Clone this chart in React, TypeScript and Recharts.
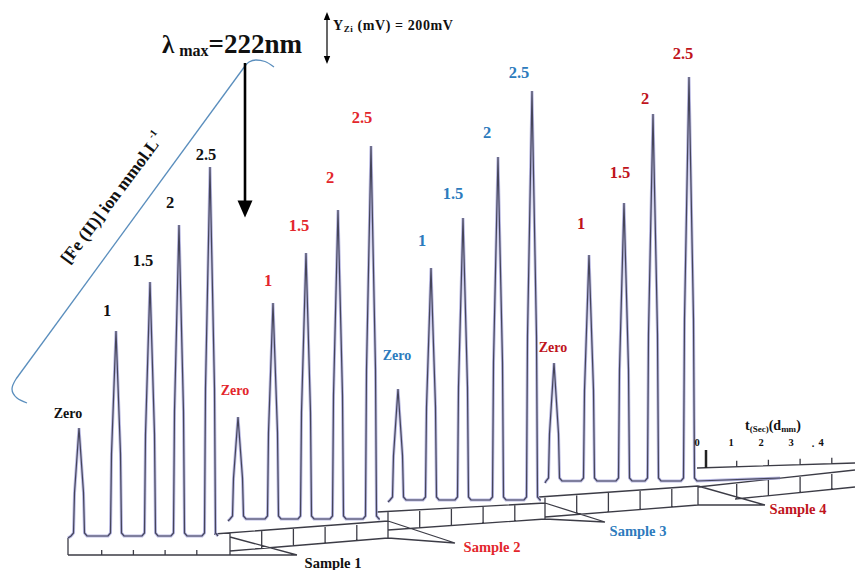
import React from 'react';
import { ComposedChart, Line, Scatter, XAxis, YAxis } from 'recharts';

// ---------------- data ----------------
const concentrations = ['Zero', '1', '1.5', '2', '2.5'];
const sampleNames = ['Sample 1', 'Sample 2', 'Sample 3', 'Sample 4'];
// retention position of each injection (chart x units)
const s1Times = [79, 116, 150, 179, 210];
const s2Times = [238, 273, 306, 338, 371];
const s3Times = [398, 431, 463, 498, 532];
const s4Times = [554, 589, 624, 653, 689];
// peak signal (chart y units above the sample baseline)
const s1Signal = [108, 205, 254, 311, 369];
const s2Signal = [102, 216, 266, 309, 373];
const s3Signal = [111, 232, 282, 343, 409];
const s4Signal = [118, 226, 278, 367, 404];
const timeTickLabels = ['0', '1', '2', '3', '4'];

// ---------------- layout ----------------
const W = 855;
const H = 570;
const FONT = '"Liberation Serif", "Times New Roman", serif';
const sampleColors = ['#111111', '#e3262c', '#2c7bbd', '#c0141c'];
const baselines = [536, 519, 500, 481];
const traceStart = [68, 228, 388, 545];
const traceEnd = [218, 380, 541, 780];
const labelDx = [
  [-11, -9, -7, -9, -4],
  [-3, -5, -7, -8, -9],
  [-1, -9, -10, -11, -13],
  [-1, -8, -4, -8, -6],
];
const labelLift = [
  [15, 21, 22, 23, 13],
  [27, 23, 28, 33, 29],
  [34, 28, 25, 25, 19],
  [16, 32, 31, 16, 24],
];

type P = { x: number; y: number | null };
type Pt = { x: number; y: number };

// floors (time-axis ribbons below each sample): [topL, topR, botL, botR]
const floors: Pt[][] = [
  [{ x: 68, y: 538 }, { x: 230, y: 537 }, { x: 68, y: 555 }, { x: 230, y: 555 }],
  [{ x: 214, y: 534 }, { x: 388, y: 521 }, { x: 230, y: 551 }, { x: 388, y: 538 }],
  [{ x: 377, y: 512 }, { x: 545, y: 503 }, { x: 388, y: 530 }, { x: 545, y: 519 }],
  [{ x: 539, y: 497 }, { x: 698, y: 486 }, { x: 545, y: 517 }, { x: 698, y: 505 }],
  [{ x: 698, y: 487 }, { x: 855, y: 470 }, { x: 735, y: 499 }, { x: 855, y: 487 }],
];
const floorOrigin = [70, 230, 388, 545, 705];
const secPx = 31.7;
const pointerApex: Pt[] = [
  { x: 297, y: 555 },
  { x: 455, y: 543 },
  { x: 605, y: 522 },
  { x: 765, y: 505 },
];
const sampleLabelOffset: Pt[] = [
  { x: 36, y: 8 },
  { x: 37, y: 4 },
  { x: 33, y: 9 },
  { x: 33, y: 4 },
];

const lerpY = (a: Pt, b: Pt, x: number) => a.y + ((b.y - a.y) * (x - a.x)) / (b.x - a.x);

function peakTrace(times: number[], signal: number[], base: number, x0: number, x1: number, endLift: number): P[] {
  const pts: P[] = [{ x: x0, y: base + 2 }];
  times.forEach((t, i) => {
    const h = signal[i];
    const top = base - h;
    pts.push(
      { x: t - 8, y: base },
      { x: t - 5.5, y: base - 3 },
      { x: t - 4.5, y: top + 0.6 * h },
      { x: t, y: top },
      { x: t + 4.5, y: top + 0.6 * h },
      { x: t + 5.5, y: base - 3 },
      { x: t + 8, y: base },
    );
  });
  pts.push({ x: x1, y: base - endLift });
  return pts;
}

const allTimes = [s1Times, s2Times, s3Times, s4Times];
const allSignals = [s1Signal, s2Signal, s3Signal, s4Signal];
const traces = allTimes.map((t, k) =>
  peakTrace(t, allSignals[k], baselines[k], traceStart[k], traceEnd[k], k === 3 ? 3 : 0),
);

// segments of the drawn floors
const segs: [Pt, Pt][] = [];
floors.forEach((f, k) => {
  const [tl, tr, bl, br] = f;
  if (k > 0) segs.push([tl, tr]);
  segs.push([bl, br]);
  if (k === 0) segs.push([{ x: tl.x, y: tl.y }, { x: bl.x, y: bl.y }]);
  if (k > 0 && k < 4) segs.push([{ x: bl.x, y: lerpY(tl, tr, bl.x) }, bl]);
  if (k < 4) {
    segs.push([tr, br]);
    segs.push([tr, pointerApex[k]]);
    segs.push([br, pointerApex[k]]);
  }
  for (let i = 1; i <= 4; i++) {
    const x = floorOrigin[k] + i * secPx;
    const yb = lerpY(bl, br, x);
    const yt = k === 0 ? yb - 5 : lerpY(tl, tr, x);
    segs.push([{ x, y: yt }, { x, y: yb }]);
  }
});
// time-scale axis (legend at right)
const axisA: Pt = { x: 697, y: 468 };
const axisB: Pt = { x: 855, y: 463 };
segs.push([axisA, axisB]);
for (let i = 1; i <= 4; i++) {
  const x = floorOrigin[4] + i * secPx;
  const y = lerpY(axisA, axisB, x);
  segs.push([{ x, y: y - 6 }, { x, y }]);
}
const floorLine: P[] = [];
segs.forEach(([a, b]) => {
  floorLine.push(a, b, { x: b.x, y: null });
});

const zeroMark: P[] = [{ x: 706, y: 450 }, { x: 706, y: 468 }];
const downArrow: P[] = [{ x: 245, y: 63 }, { x: 245, y: 204 }];
const scaleArrow: P[] = [{ x: 327, y: 18 }, { x: 327, y: 58 }];
const bracketTop: P[] = [
  { x: 274, y: 67 }, { x: 265, y: 61.5 }, { x: 256, y: 60 }, { x: 249, y: 62 }, { x: 245, y: 66 },
];
const bracketLine: P[] = [{ x: 245, y: 66 }, { x: 16, y: 379 }];
const bracketBottom: P[] = [{ x: 16, y: 379 }, { x: 12, y: 389 }, { x: 17, y: 398 }, { x: 27, y: 403 }];
const arrowHeads = [
  { x: 245, y: 209, dir: 'down', hw: 7.5, hh: 8.5 },
  { x: 327, y: 16, dir: 'up', hw: 3.2, hh: 4 },
  { x: 327, y: 60, dir: 'down', hw: 3.2, hh: 4 },
];

// text items
type T = { x: number; y: number; kind: string; text: string; color?: string };
const texts: T[] = [];
allTimes.forEach((times, k) => {
  times.forEach((t, i) => {
    const top = baselines[k] - allSignals[k][i];
    texts.push({
      x: t + labelDx[k][i],
      y: top - labelLift[k][i],
      kind: i === 0 ? 'zero' : 'num',
      text: concentrations[i],
      color: sampleColors[k],
    });
  });
  texts.push({
    x: pointerApex[k].x + sampleLabelOffset[k].x,
    y: pointerApex[k].y + sampleLabelOffset[k].y,
    kind: 'sample',
    text: sampleNames[k],
    color: sampleColors[k],
  });
});
const tickLabelX = [697, 731, 761, 791, 821];
timeTickLabels.forEach((s, i) => texts.push({ x: tickLabelX[i], y: 442, kind: 'tick', text: s }));
texts.push({ x: 813, y: 443, kind: 'tick', text: '.' });
texts.push({ x: 162, y: 53, kind: 'title', text: '222nm' });
texts.push({ x: 333, y: 30, kind: 'scale', text: '200mV' });
texts.push({ x: 745, y: 430, kind: 'taxis', text: 't' });
texts.push({ x: 112, y: 198, kind: 'yaxis', text: 'Fe' });

const renderText = (props: any) => {
  const { cx, cy, payload } = props;
  const p = payload as T;
  const common = { fontFamily: FONT, fontWeight: 700 as const };
  switch (p.kind) {
    case 'num':
      return (
        <text x={cx} y={cy} {...common} fontSize={16.5} fill={p.color} textAnchor="middle" dominantBaseline="central">
          {p.text}
        </text>
      );
    case 'zero':
      return (
        <text x={cx} y={cy} {...common} fontSize={14} fill={p.color} textAnchor="middle" dominantBaseline="central">
          {p.text}
        </text>
      );
    case 'sample':
      return (
        <text x={cx} y={cy} {...common} fontSize={14.5} fill={p.color} textAnchor="middle" dominantBaseline="central">
          {p.text}
        </text>
      );
    case 'tick':
      return (
        <text x={cx} y={cy} {...common} fontSize={10.5} fill="#111" textAnchor="middle" dominantBaseline="central">
          {p.text}
        </text>
      );
    case 'title':
      return (
        <text x={cx} y={cy} {...common} fill="#111">
          <tspan fontSize={25}>λ</tspan>
          <tspan fontSize={16} dx={5} dy={3}>max</tspan>
          <tspan fontSize={27} dy={-3}>=222nm</tspan>
        </text>
      );
    case 'scale':
      return (
        <text x={cx} y={cy} {...common} fill="#111" letterSpacing={0.6}>
          <tspan fontSize={14}>Y</tspan>
          <tspan fontSize={9} dy={2}>Zi</tspan>
          <tspan fontSize={14} dx={4} dy={-2}>{'(mV) = 200mV'}</tspan>
        </text>
      );
    case 'taxis':
      return (
        <text x={cx} y={cy} {...common} fill="#111">
          <tspan fontSize={14}>t</tspan>
          <tspan fontSize={9} dy={2}>(Sec)</tspan>
          <tspan fontSize={14} dy={-2}>(d</tspan>
          <tspan fontSize={9} dy={2}>mm</tspan>
          <tspan fontSize={14} dy={-2}>)</tspan>
        </text>
      );
    case 'yaxis':
      return (
        <text
          x={cx}
          y={cy}
          {...common}
          fill="#111"
          textAnchor="middle"
          dominantBaseline="central"
          transform={`rotate(-53 ${cx} ${cy})`}
        >
          <tspan fontSize={17.5}>[Fe (II)] ion mmol.L</tspan>
          <tspan fontSize={10} dy={-7}>-1</tspan>
        </text>
      );
    default:
      return <g />;
  }
};

const renderHead = (props: any) => {
  const { cx, cy, payload } = props;
  const { dir, hw, hh } = payload;
  const pts =
    dir === 'down'
      ? `${cx - hw},${cy - hh} ${cx + hw},${cy - hh} ${cx},${cy + hh}`
      : `${cx - hw},${cy + hh} ${cx + hw},${cy + hh} ${cx},${cy - hh}`;
  return <polygon points={pts} fill="#000" />;
};

const lineProps = { dataKey: 'y', dot: false, activeDot: false, isAnimationActive: false } as const;

export default function App() {
  return (
    <div style={{ position: 'absolute', left: 0, top: 0, width: W, height: H, background: '#fff' }}>
      <ComposedChart width={W} height={H} margin={{ top: 0, right: 0, bottom: 0, left: 0 }}>
        <XAxis type="number" dataKey="x" domain={[0, W]} allowDataOverflow hide />
        <YAxis type="number" dataKey="y" domain={[0, H]} allowDataOverflow reversed hide />
        <Line {...lineProps} data={floorLine} type="linear" stroke="#3c3c46" strokeWidth={1.3} connectNulls={false} />
        <Line {...lineProps} data={zeroMark} type="linear" stroke="#222" strokeWidth={2.5} />
        {traces.map((tr, k) => (
          <Line {...lineProps} key={`u${k}`} data={tr} type="linear" stroke="#a9a9dc" strokeWidth={3} strokeOpacity={0.8} />
        ))}
        {traces.map((tr, k) => (
          <Line {...lineProps} key={`d${k}`} data={tr} type="linear" stroke="#45455a" strokeWidth={1.2} />
        ))}
        <Line {...lineProps} data={bracketTop} type="monotone" stroke="#5a8ebd" strokeWidth={1.3} />
        <Line {...lineProps} data={bracketLine} type="linear" stroke="#5a8ebd" strokeWidth={1.3} />
        <Line {...lineProps} data={bracketBottom} type="natural" stroke="#5a8ebd" strokeWidth={1.3} />
        <Line {...lineProps} data={downArrow} type="linear" stroke="#000" strokeWidth={2.6} />
        <Line {...lineProps} data={scaleArrow} type="linear" stroke="#000" strokeWidth={1.2} />
        <Scatter data={arrowHeads} dataKey="y" shape={renderHead} isAnimationActive={false} />
        <Scatter data={texts} dataKey="y" shape={renderText} isAnimationActive={false} />
      </ComposedChart>
    </div>
  );
}
